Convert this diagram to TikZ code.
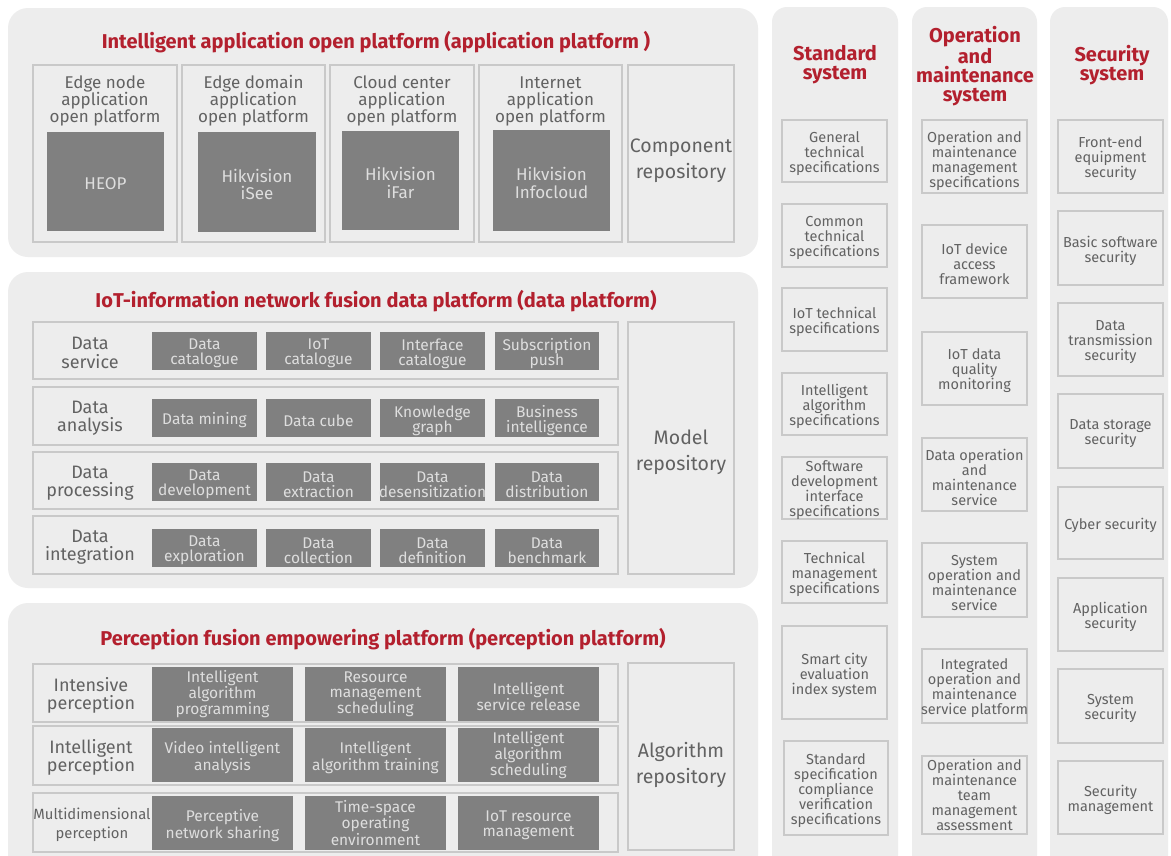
\documentclass[tikz,border=0pt]{standalone}
\usepackage{fontspec}
\setmainfont{Fira Sans}
\definecolor{panelgray}{HTML}{EDEDED}
\definecolor{linegray}{HTML}{C9C9C9}
\definecolor{darkbox}{HTML}{808080}
\definecolor{darktext}{HTML}{DEDEDE}
\definecolor{labelgray}{HTML}{626262}
\definecolor{titlered}{HTML}{B3202E}
\def\tsh{2.5}
\newcommand\rbox[7]{\node[#1, minimum width={(#5)-(#3)}, minimum height={(#6)-(#4)}] (#2) at ({((#3)+(#5))/2},{((#4)+(#6))/2}) {};
\node[#1, draw=none, fill=none, minimum width=0pt, minimum height=0pt] (#2t) at ([yshift=-\tsh pt]#2.center) {#7};}
\tikzset{
  panel/.style={fill=panelgray, draw=none, rounded corners=20pt, inner sep=0pt, outer sep=0pt},
  frame/.style={draw=linegray, line width=1.1pt, inner sep=0pt, outer sep=0pt, text=labelgray, align=center},
  dark/.style={fill=darkbox, draw=none, inner sep=0pt, outer sep=0pt, text=darktext, align=center, font=\fontsize{15.5}{15}\selectfont},
  ptitle/.style={text=titlered, font=\bfseries\fontsize{20}{19}\selectfont, align=center, inner sep=0pt},
  lab/.style={text=labelgray, align=center, inner sep=0pt},
  small/.style={font=\fontsize{14.5}{15}\selectfont},
  rowlab/.style={lab, font=\fontsize{18}{18.5}\selectfont},
  repo/.style={lab, font=\fontsize{19.5}{25.5}\selectfont}
}
\begin{document}
\begin{tikzpicture}[x=1pt,y=-1pt]
\useasboundingbox (0,0) rectangle (1171,855);
\clip (0,0) rectangle (1171,855);
\fill[white] (0,0) rectangle (1171,855);
% ---------- panel 1: application platform
\rbox{panel}{p1}{8}{8}{758}{257}{}
\node[ptitle] (t1) at (376,42) {Intelligent application open platform (application platform )};
\rbox{frame}{a1}{33}{65}{177}{242}{}
\rbox{frame}{a2}{182}{65}{325}{242}{}
\rbox{frame}{a3}{330}{65}{474}{242}{}
\rbox{frame}{a4}{479}{65}{622}{242}{}
\node[lab, font=\fontsize{17}{17}\selectfont] (a1l) at (105,101) {Edge node\\application\\open platform};
\node[lab, font=\fontsize{17}{17}\selectfont] (a2l) at (253.5,101) {Edge domain\\application\\open platform};
\node[lab, font=\fontsize{17}{17}\selectfont] (a3l) at (402,101) {Cloud center\\application\\open platform};
\node[lab, font=\fontsize{17}{17}\selectfont] (a4l) at (550.5,101) {Internet\\application\\open platform};
\rbox{dark, font=\fontsize{17}{17.5}\selectfont}{a1d}{47}{132}{164}{231}{HEOP}
\rbox{dark, font=\fontsize{17}{17.5}\selectfont}{a2d}{198}{132}{316}{232}{Hikvision\\iSee}
\rbox{dark, font=\fontsize{17}{17.5}\selectfont}{a3d}{342}{131}{459}{230}{Hikvision\\iFar}
\rbox{dark, font=\fontsize{17}{17.5}\selectfont}{a4d}{493}{130}{610}{231}{Hikvision\\Infocloud}
\rbox{frame}{comp}{628}{65}{734}{242}{}
\node[repo] (compl) at (681,160.5) {Component\\repository};
% ---------- panel 2: data platform
\rbox{panel}{p2}{8}{272}{758}{588}{}
\node[ptitle] (t2) at (376,301) {IoT-information network fusion data platform (data platform)};
\rbox{frame}{r1}{33}{322}{618}{379}{}
\rbox{frame}{r2}{33}{387}{618}{445}{}
\rbox{frame}{r3}{33}{452}{618}{509}{}
\rbox{frame}{r4}{33}{516}{618}{574}{}
\node[rowlab] (r1l) at (90,353) {Data\\service};
\node[rowlab] (r2l) at (90,418) {Data\\analysis};
\node[rowlab] (r3l) at (90,483) {Data\\processing};
\node[rowlab] (r4l) at (90,547) {Data\\integration};
\rbox{dark}{d11}{152}{332}{257}{370}{Data\\catalogue}
\rbox{dark}{d12}{266}{332}{371}{370}{IoT\\catalogue}
\rbox{dark}{d13}{380}{332}{485}{370}{Interface\\catalogue}
\rbox{dark}{d14}{495}{332}{599}{370}{Subscription\\push}
\rbox{dark}{d21}{152}{399}{257}{437}{Data mining}
\rbox{dark}{d22}{266}{399}{371}{437}{Data cube}
\rbox{dark}{d23}{380}{399}{485}{437}{Knowledge\\graph}
\rbox{dark}{d24}{495}{399}{599}{437}{Business\\intelligence}
\rbox{dark}{d31}{152}{463}{257}{501}{Data\\development}
\rbox{dark}{d32}{266}{463}{371}{501}{Data\\extraction}
\rbox{dark}{d33}{380}{463}{485}{501}{Data\\desensitization}
\rbox{dark}{d34}{495}{463}{599}{501}{Data\\distribution}
\rbox{dark}{d41}{152}{529}{257}{567}{Data\\exploration}
\rbox{dark}{d42}{266}{529}{371}{567}{Data\\collection}
\rbox{dark}{d43}{380}{529}{485}{567}{Data\\definition}
\rbox{dark}{d44}{495}{529}{599}{567}{Data\\benchmark}
\rbox{frame}{model}{628}{322}{734}{574}{}
\node[repo] (modell) at (681,452.5) {Model\\repository};
% ---------- panel 3: perception platform
\rbox{panel}{p3}{8}{603}{758}{890}{}
\node[ptitle] (t3) at (383,639) {Perception fusion empowering platform (perception platform)};
\rbox{frame}{q1}{33}{664}{618}{722}{}
\rbox{frame}{q2}{33}{726}{618}{785}{}
\rbox{frame}{q3}{33}{793}{618}{852}{}
\node[rowlab] (q1l) at (91,695.5) {Intensive\\perception};
\node[rowlab] (q2l) at (91,757.5) {Intelligent\\perception};
\node[lab, font=\fontsize{14.8}{19}\selectfont] (q3l) at (92,824.5) {Multidimensional\\perception};
{\def\tsh{0}
\rbox{dark}{e11}{152}{667}{293}{721}{Intelligent\\algorithm\\programming}
\rbox{dark}{e12}{305}{667}{446}{721}{Resource\\management\\scheduling}
\rbox{dark}{e23}{458}{728}{599}{782}{Intelligent\\algorithm\\scheduling}
\rbox{dark}{e32}{305}{796}{446}{850}{Time-space\\operating\\environment}
}
\rbox{dark}{e13}{458}{667}{599}{721}{Intelligent\\service release}
\rbox{dark}{e21}{152}{728}{293}{782}{Video intelligent\\analysis}
\rbox{dark}{e22}{305}{728}{446}{782}{Intelligent\\algorithm training}
\rbox{dark}{e31}{152}{796}{293}{850}{Perceptive\\network sharing}
\rbox{dark}{e33}{458}{796}{599}{850}{IoT resource\\management}
\rbox{frame}{algo}{628}{663}{734}{850}{}
\node[repo] (algol) at (681,765) {Algorithm\\repository};
% ---------- right columns
\rbox{panel, rounded corners=15pt}{cstd}{772}{7}{898}{890}{}
\rbox{panel, rounded corners=15pt}{cops}{912}{7}{1037}{890}{}
\rbox{panel, rounded corners=15pt}{csec}{1050}{7}{1168}{890}{}
\node[ptitle] (tstd) at (835,65) {Standard\\system};
\node[ptitle] (tops) at (975,66) {Operation\\and\\maintenance\\system};
\node[ptitle] (tsec) at (1112,65) {Security\\system};
% standard system
\rbox{frame, small}{s1}{782}{120}{887}{182}{General\\technical\\specifications}
\rbox{frame, small}{s2}{782}{204}{887}{267}{Common\\technical\\specifications}
\rbox{frame, small}{s3}{782}{288}{887}{351}{IoT technical\\specifications}
\rbox{frame, small}{s4}{782}{373}{887}{435}{Intelligent\\algorithm\\specifications}
\rbox{frame, small}{s5}{782}{457}{887}{519}{Software\\development\\interface\\specifications}
\rbox{frame, small}{s6}{782}{541}{887}{603}{Technical\\management\\specifications}
\rbox{frame, small}{s7}{782}{626}{887}{719}{Smart city\\evaluation\\index system}
\rbox{frame, small}{s8}{784}{741}{888}{835}{Standard\\specification\\compliance\\verification\\specifications}
% operation and maintenance system
{\def\tsh{4.5}
\rbox{frame, small}{o1}{922}{120}{1027}{193}{Operation and\\maintenance\\management\\specifications}
}
\rbox{frame, small}{o2}{922}{225}{1027}{298}{IoT device\\access\\framework}
\rbox{frame, small}{o3}{922}{332}{1027}{405}{IoT data\\quality\\monitoring}
\rbox{frame, small}{o4}{922}{438}{1027}{511}{Data operation\\and\\maintenance\\service}
\rbox{frame, small}{o5}{922}{543}{1027}{617}{System\\operation and\\maintenance\\service}
\rbox{frame, small}{o6}{922}{649}{1027}{723}{Integrated\\operation and\\maintenance\\service platform}
{\def\tsh{0}
\rbox{frame, small}{o7}{922}{756}{1027}{834}{Operation and\\maintenance\\team\\management\\assessment}
}
% security system
\rbox{frame, small}{x1}{1058}{120}{1163}{193}{Front-end\\equipment\\security}
\rbox{frame, small}{x2}{1058}{211}{1163}{285}{Basic software\\security}
\rbox{frame, small}{x3}{1058}{303}{1163}{376}{Data\\transmission\\security}
\rbox{frame, small}{x4}{1058}{394}{1163}{468}{Data storage\\security}
\rbox{frame, small}{x5}{1058}{487}{1163}{559}{Cyber security}
\rbox{frame, small}{x6}{1058}{578}{1163}{651}{Application\\security}
\rbox{frame, small}{x7}{1058}{669}{1163}{743}{System\\security}
\rbox{frame, small}{x8}{1058}{761}{1163}{834}{Security\\management}
\end{tikzpicture}
\end{document}
